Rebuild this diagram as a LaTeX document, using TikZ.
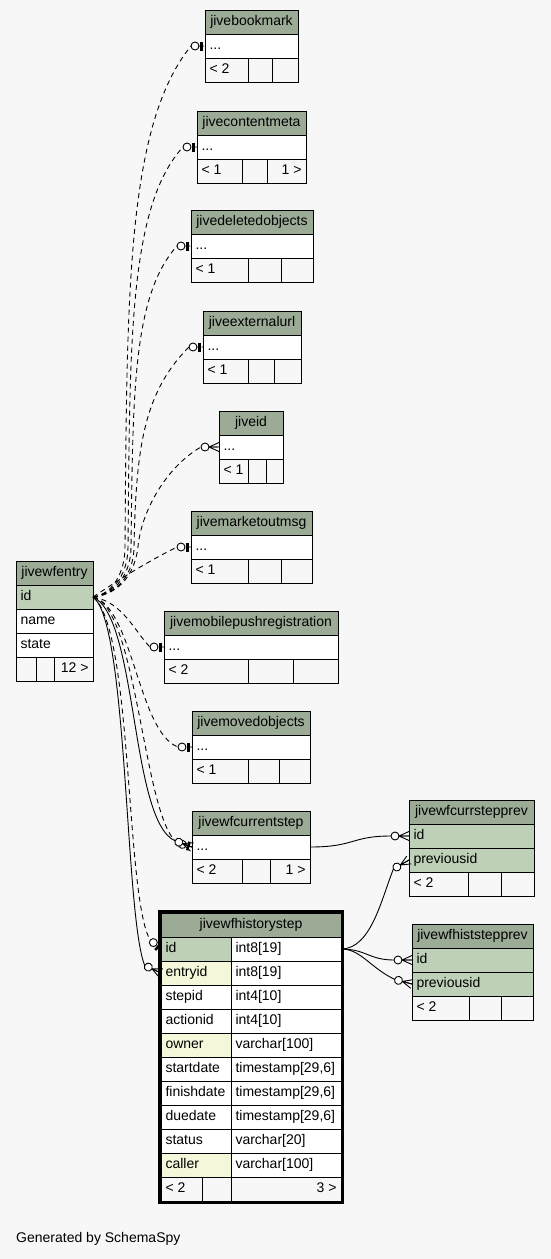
\documentclass[tikz,border=0pt]{standalone}
\usepackage{fontspec}
\setmainfont{Liberation Sans}
\usetikzlibrary{calc}

\definecolor{hdr}{HTML}{9BAB96}
\definecolor{pk}{HTML}{BED1B8}
\definecolor{idx}{HTML}{F4F7DA}
\definecolor{bg}{HTML}{F7F7F7}
\colorlet{foot}{bg}

\tikzset{
  cell/.style={draw, line width=0.9pt, anchor=north west, minimum height=24pt,
    inner xsep=4.5pt, inner ysep=0pt, outer sep=0pt, text height=10pt, text depth=3pt,
    font=\fontsize{14}{16}\selectfont},
  fk/.style={line width=0.9pt, dash pattern=on 5pt off 4pt},
  ref/.style={line width=0.9pt},
  zero one/.pic={
    \draw[line width=0.9pt, fill=white] (-10,0) circle (4);
    \fill (-5,-4.5) rectangle (-2.5,4.5);
  },
  zero many/.pic={
    \draw[line width=0.9pt, fill=white] (-14,0) circle (4);
    \draw[line width=0.9pt] (-10,0) -- (0,-4.5) (-10,0) -- (0,4.5) (-10,0) -- (0,0);
  }
}

% one table cell: name, position, width, fill, align, text
\newcommand{\tcell}[6]{%
  \pgfmathsetmacro\cellw{#3-9}%
  \node[cell, fill=#4, minimum width=#3pt] (#1) at #2 {\makebox[\cellw pt][#5]{#6}};}

% collapsed table: name, position, title, width, f1 width, f1 text, f2 width, f3 text
\newcommand{\stubtable}[8]{%
  \tcell{#1}{#2}{#4}{hdr}{c}{#3}
  \tcell{#1-x}{(#1.south west)}{#4}{white}{l}{...}
  \tcell{#1-f1}{(#1-x.south west)}{#5}{foot}{l}{#6}
  \tcell{#1-f2}{(#1-f1.north east)}{#7}{foot}{l}{}
  \pgfmathsetmacro\lastw{#4-#5-#7}%
  \tcell{#1-f3}{(#1-f2.north east)}{\lastw}{foot}{r}{#8}}

\begin{document}
\begin{tikzpicture}[x=1pt,y=-1pt]

		\fill[bg] (0,0) rectangle (551,1259);
		\useasboundingbox (0,0) rectangle (551,1259);

		% tables on the right column
		\stubtable{bookmark}{(205,10)}{jivebookmark}{93}{43}{< 2}{24}{}
		\stubtable{contentmeta}{(197,111)}{jivecontentmeta}{109}{45}{< 1}{25}{1 >}
		\stubtable{deletedobj}{(191,210)}{jivedeletedobjects}{122}{57}{< 1}{33}{}
		\stubtable{externalurl}{(203,311)}{jiveexternalurl}{98}{45}{< 1}{26}{}
		\stubtable{jiveid}{(219,411)}{jiveid}{64}{29}{< 1}{18}{}
		\stubtable{marketmsg}{(191,511)}{jivemarketoutmsg}{121}{57}{< 1}{33}{}
		\stubtable{mobilepush}{(164,611)}{jivemobilepushregistration}{174}{84}{< 2}{45}{}
		\stubtable{movedobj}{(192,711)}{jivemovedobjects}{118}{56}{< 1}{31}{}
		\stubtable{currentstep}{(192,811)}{jivewfcurrentstep}{118}{50}{< 2}{28}{1 >}

		% jivewfentry
		\tcell{wfentry}{(16,561)}{77}{hdr}{c}{jivewfentry}
		\tcell{wfentry-id}{(wfentry.south west)}{77}{pk}{l}{id}
		\tcell{wfentry-name}{(wfentry-id.south west)}{77}{white}{l}{name}
		\tcell{wfentry-state}{(wfentry-name.south west)}{77}{white}{l}{state}
		\tcell{wfentry-f1}{(wfentry-state.south west)}{20}{foot}{l}{}
		\tcell{wfentry-f2}{(wfentry-f1.north east)}{18}{foot}{l}{}
		\tcell{wfentry-f3}{(wfentry-f2.north east)}{39}{foot}{r}{12 >}

		% jivewfhistorystep
		\tcell{history}{(161,913)}{180}{hdr}{c}{jivewfhistorystep}
		\foreach \fname/\ftype/\fcol [count=\i] in {id/int8[19]/pk, entryid/int8[19]/idx,
				stepid/int4[10]/white, actionid/int4[10]/white, owner/varchar[100]/idx,
				startdate/{timestamp[29,6]}/white, finishdate/{timestamp[29,6]}/white,
				duedate/{timestamp[29,6]}/white, status/varchar[20]/white, caller/varchar[100]/idx} {
			\tcell{hist-n\i}{(161,{913+24*\i})}{70}{\fcol}{l}{\fname}
			\tcell{hist-t\i}{(hist-n\i.north east)}{110}{white}{l}{\ftype}
		}
		\tcell{hist-f1}{(161,1177)}{41}{foot}{l}{< 2}
		\tcell{hist-f2}{(hist-f1.north east)}{29}{foot}{l}{}
		\tcell{hist-f3}{(hist-f2.north east)}{110}{foot}{r}{3 >}
		\draw[line width=2.5pt] ([shift={(-1.5,-1.5)}]history.north west) rectangle ([shift={(1.5,1.5)}]hist-f3.south east);

		% jivewfcurrstepprev
		\tcell{currprev}{(409,800)}{125}{hdr}{c}{jivewfcurrstepprev}
		\tcell{currprev-id}{(currprev.south west)}{125}{pk}{l}{id}
		\tcell{currprev-prev}{(currprev-id.south west)}{125}{pk}{l}{previousid}
		\tcell{currprev-f1}{(currprev-prev.south west)}{59}{foot}{l}{< 2}
		\tcell{currprev-f2}{(currprev-f1.north east)}{33}{foot}{l}{}
		\tcell{currprev-f3}{(currprev-f2.north east)}{33}{foot}{l}{}

		% jivewfhiststepprev
		\tcell{histprev}{(412,924)}{121}{hdr}{c}{jivewfhiststepprev}
		\tcell{histprev-id}{(histprev.south west)}{121}{pk}{l}{id}
		\tcell{histprev-prev}{(histprev-id.south west)}{121}{pk}{l}{previousid}
		\tcell{histprev-f1}{(histprev-prev.south west)}{57}{foot}{l}{< 2}
		\tcell{histprev-f2}{(histprev-f1.north east)}{32}{foot}{l}{}
		\tcell{histprev-f3}{(histprev-f2.north east)}{32}{foot}{l}{}

		% relationships out of jivewfentry.id
		\draw[fk] (wfentry-id.east) .. controls +(20,-3) and +(0,25) .. ++(32,-50)
			.. controls +(2,-250) and +(-65,80) .. ([xshift=-14pt]bookmark-x.west) -- (bookmark-x.west);
		\draw[fk] (wfentry-id.east) .. controls +(22,-3) and +(0,25) .. ++(35,-50)
			.. controls +(2,-200) and +(-55,60) .. ([xshift=-14pt]contentmeta-x.west) -- (contentmeta-x.west);
		\draw[fk] (wfentry-id.east) .. controls +(24,-3) and +(0,25) .. ++(38,-50)
			.. controls +(2,-150) and +(-45,50) .. ([xshift=-14pt]deletedobj-x.west) -- (deletedobj-x.west);
		\draw[fk] (wfentry-id.east) .. controls +(26,-3) and +(0,25) .. ++(41,-50)
			.. controls +(2,-100) and +(-45,45) .. ([xshift=-14pt]externalurl-x.west) -- (externalurl-x.west);
		\draw[fk] (wfentry-id.east) .. controls +(28,-3) and +(-3,25) .. ++(45,-50)
			.. controls +(3,-35) and +(-35,20) .. ([xshift=-18pt]jiveid-x.west) -- (jiveid-x.west);
		\draw[fk] (wfentry-id.east) .. controls +(30,-20) and +(-30,15) .. ([xshift=-14pt]marketmsg-x.west) -- (marketmsg-x.west);
		\draw[fk] (wfentry-id.east) .. controls +(30,5) and +(-15,-15) .. ([xshift=-14pt]mobilepush-x.west) -- (mobilepush-x.west);
		\draw[fk] (wfentry-id.east) .. controls +(40,10) and +(-40,-15) .. ([xshift=-14pt]movedobj-x.west) -- (movedobj-x.west);
		\draw[fk] (wfentry-id.east) .. controls +(45,10) and +(-35,-20) .. ($(currentstep-x.west)+(195:14)$) -- (currentstep-x.west);
		\draw[ref] (wfentry-id.east) .. controls +(45,20) and +(-45,-20) .. ($(currentstep-x.west)+(200:18)$) -- (currentstep-x.west);
		\draw[fk] (wfentry-id.east) .. controls +(40,30) and +(-25,-40) .. ($(hist-n1.west)+(220:14)$) -- (hist-n1.west);
		\draw[ref] (wfentry-id.east) .. controls +(35,25) and +(-20,-50) .. ($(hist-n2.west)+(205:18)$) -- (hist-n2.west);

		% step links
		\draw[ref] (currentstep-x.east) .. controls +(45,0) and +(-40,0) .. ([xshift=-18pt]currprev-id.west) -- (currprev-id.west);
		\draw[ref] (hist-t1.east) .. controls +(30,0) and +(-12,30) .. ($(currprev-prev.west)+(150:18)$) -- (currprev-prev.west);
		\draw[ref] (hist-t1.east) .. controls +(25,0) and +(-25,0) .. ([xshift=-18pt]histprev-id.west) -- (histprev-id.west);
		\draw[ref] (hist-t1.east) .. controls +(20,0) and +(-25,-12) .. ($(histprev-prev.west)+(195:18)$) -- (histprev-prev.west);

		% line ends
		\pic at (bookmark-x.west) {zero one};
		\pic at (contentmeta-x.west) {zero one};
		\pic at (deletedobj-x.west) {zero one};
		\pic at (externalurl-x.west) {zero one};
		\pic at (jiveid-x.west) {zero many};
		\pic at (marketmsg-x.west) {zero one};
		\pic at (mobilepush-x.west) {zero one};
		\pic at (movedobj-x.west) {zero one};
		\pic[rotate=-15] at (currentstep-x.west) {zero one};
		\pic[rotate=-20] at (currentstep-x.west) {zero many};
		\pic[rotate=-40] at (hist-n1.west) {zero one};
		\pic[rotate=-25] at (hist-n2.west) {zero many};
		\pic at (currprev-id.west) {zero many};
		\pic[rotate=30] at (currprev-prev.west) {zero many};
		\pic at (histprev-id.west) {zero many};
		\pic[rotate=-15] at (histprev-prev.west) {zero many};

		\node[anchor=west, inner sep=0pt, font=\fontsize{14}{16}\selectfont] (credit) at (16,1239) {Generated by SchemaSpy};

\end{tikzpicture}
\end{document}
